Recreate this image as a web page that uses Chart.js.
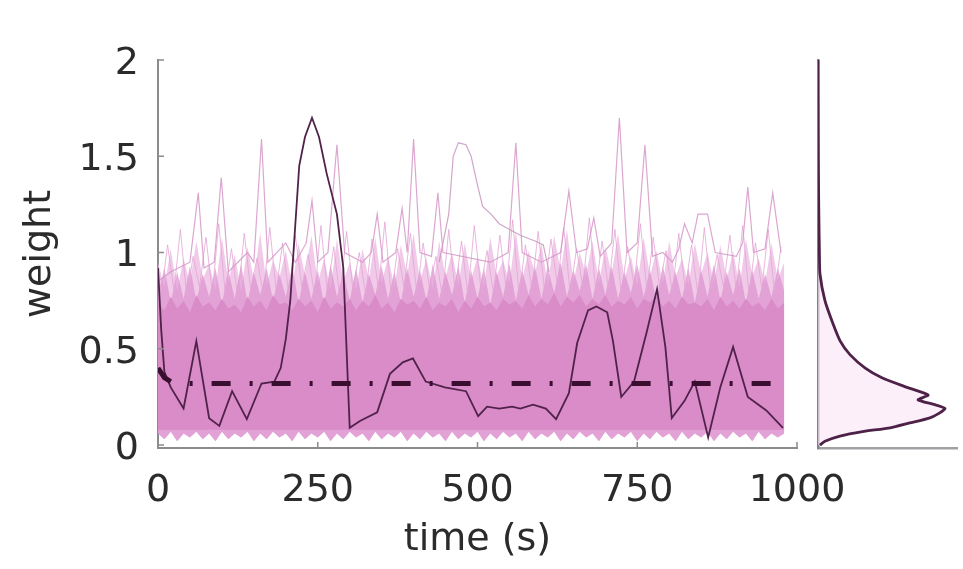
<!DOCTYPE html>
<html>
<head>
<meta charset="utf-8">
<script src="https://cdn.jsdelivr.net/npm/chart.js@4.4.0/dist/chart.umd.min.js"></script>
<style>
  html, body { margin: 0; padding: 0; background: #ffffff; }
  #wrap { position: relative; width: 963px; height: 569px; }
  #wrap canvas { position: absolute; left: 0; top: 0; }
</style>
</head>
<body>
<div id="wrap">
  <canvas id="main" width="963" height="569"></canvas>
  <canvas id="dens" width="963" height="569"></canvas>
</div>
<script>
// ---------------- DATA ----------------
const xTicks = [0, 250, 500, 750, 1000];
const yTicks = [0, 0.5, 1, 1.5, 2];
const xTitle = 'time (s)';
const yTitle = 'weight';

// sample times of the ensemble band (s)
const times10 = [
  0,10,20,30,40,50,60,70,80,90,
  100,110,120,130,140,150,160,170,180,190,
  200,210,220,230,240,250,260,270,280,290,
  300,310,320,330,340,350,360,370,380,390,
  400,410,420,430,440,450,460,470,480,490,
  500,510,520,530,540,550,560,570,580,590,
  600,610,620,630,640,650,660,670,680,690,
  700,710,720,730,740,750,760,770,780,790,
  800,810,820,830,840,850,860,870,880,890,
  900,910,920,930,940,950,960,970,980
];
// upper ragged edge of the many pink trajectories
const bandTop = [
  0.95,0.82,1.02,0.80,0.97,0.84,1.06,0.86,0.94,0.81,
  1.08,0.85,0.99,0.80,1.03,0.86,1.10,0.83,0.96,0.87,
  1.01,0.82,1.05,0.88,1.09,0.84,0.97,0.81,1.07,0.85,
  0.95,0.80,1.02,0.86,1.08,0.84,0.98,0.82,1.04,0.88,
  1.10,0.85,0.97,0.81,1.06,0.87,1.00,0.83,1.05,0.86,
  0.98,0.82,1.08,0.88,0.96,0.84,1.11,0.86,1.01,0.89,
  1.05,0.83,1.09,0.90,1.12,0.85,1.00,0.88,1.06,0.84,
  1.03,0.89,1.10,0.86,0.98,0.83,1.08,0.88,1.01,0.84,
  1.06,0.87,0.97,0.83,1.05,0.89,1.00,0.84,1.04,0.86,
  1.01,0.82,1.07,0.88,0.97,0.84,1.05,0.86,0.95
];
const bandMid = [
  0.78,0.92,0.74,0.90,0.76,0.93,0.75,0.89,0.77,0.92,
  0.73,0.91,0.76,0.94,0.74,0.90,0.78,0.92,0.75,0.89,
  0.77,0.93,0.74,0.90,0.76,0.91,0.73,0.94,0.77,0.90,
  0.75,0.92,0.74,0.89,0.78,0.93,0.76,0.90,0.74,0.92,
  0.77,0.91,0.75,0.94,0.76,0.90,0.78,0.93,0.74,0.91,
  0.76,0.92,0.73,0.90,0.77,0.94,0.75,0.91,0.78,0.93,
  0.76,0.92,0.79,0.95,0.77,0.91,0.80,0.94,0.76,0.92,
  0.78,0.93,0.76,0.90,0.79,0.94,0.77,0.91,0.75,0.93,
  0.78,0.90,0.76,0.92,0.74,0.91,0.77,0.94,0.75,0.90,
  0.78,0.92,0.74,0.91,0.76,0.89,0.77,0.92,0.80
];
const coreTop = [
  0.74,0.70,0.77,0.71,0.75,0.69,0.78,0.72,0.74,0.70,
  0.76,0.71,0.73,0.69,0.77,0.72,0.75,0.70,0.78,0.73,
  0.74,0.70,0.76,0.72,0.75,0.69,0.77,0.71,0.74,0.72,
  0.76,0.70,0.75,0.72,0.78,0.71,0.74,0.69,0.76,0.73,
  0.75,0.71,0.77,0.70,0.74,0.72,0.76,0.69,0.75,0.71,
  0.77,0.72,0.74,0.70,0.76,0.73,0.75,0.71,0.78,0.72,
  0.76,0.73,0.79,0.72,0.77,0.74,0.78,0.72,0.76,0.73,
  0.78,0.72,0.75,0.73,0.77,0.71,0.76,0.74,0.78,0.72,
  0.75,0.71,0.77,0.73,0.74,0.72,0.76,0.70,0.77,0.72,
  0.75,0.71,0.76,0.72,0.74,0.70,0.76,0.71,0.74
];
const coreBase = 0.08;
const bandBottom = [
  0.06,0.03,0.07,0.02,0.06,0.04,0.07,0.03,0.06,0.02,
  0.07,0.03,0.06,0.04,0.07,0.02,0.06,0.03,0.07,0.04,
  0.06,0.02,0.07,0.03,0.06,0.04,0.07,0.02,0.06,0.03,
  0.07,0.04,0.06,0.02,0.07,0.03,0.06,0.04,0.07,0.02,
  0.06,0.03,0.07,0.04,0.06,0.02,0.07,0.03,0.06,0.04,
  0.07,0.02,0.06,0.03,0.07,0.04,0.06,0.02,0.07,0.03,
  0.06,0.04,0.07,0.02,0.06,0.03,0.07,0.04,0.06,0.02,
  0.07,0.03,0.06,0.04,0.07,0.02,0.06,0.03,0.07,0.04,
  0.06,0.02,0.07,0.03,0.06,0.04,0.07,0.02,0.06,0.03,
  0.07,0.04,0.06,0.02,0.07,0.03,0.06,0.04,0.06
];

// thin streaks of individual trajectories poking above the band
const streakT = [
  5,15,25,35,45,55,65,75,85,95,
  105,115,125,135,145,155,165,175,185,195,
  205,215,225,235,245,255,265,275,285,295,
  305,315,325,335,345,355,365,375,385,395,
  405,415,425,435,445,455,465,475,485,495,
  505,515,525,535,545,555,565,575,585,595,
  605,615,625,635,645,655,665,675,685,695,
  705,715,725,735,745,755,765,775,785,795,
  805,815,825,835,845,855,865,875,885,895,
  905,915,925,935,945,955,965,975
];
const streakW = [
  0.78,1.04,0.80,1.12,0.77,0.98,0.82,1.08,0.79,1.15,
  0.80,1.02,0.76,1.10,0.81,0.97,0.78,1.13,0.80,1.05,
  0.77,1.09,0.82,0.99,0.78,1.14,0.80,1.03,0.76,1.11,
  0.81,1.00,0.78,1.07,0.80,1.16,0.77,1.02,0.82,1.10,
  0.79,1.05,0.81,0.98,0.77,1.12,0.80,1.06,0.78,1.14,
  0.82,1.01,0.79,1.09,0.80,1.17,0.78,1.04,0.81,1.11,
  0.80,1.07,0.83,1.13,0.79,1.02,0.82,1.18,0.80,1.06,
  0.81,1.12,0.79,1.03,0.83,1.15,0.80,1.08,0.82,1.01,
  0.79,1.10,0.81,1.04,0.78,1.13,0.80,0.99,0.82,1.09,
  0.80,1.14,0.78,1.05,0.81,1.12,0.79,1.03
];

// isolated tall excursions of single pink trajectories
const spikeT = [0,20,50,63,72,88,99,110,140,150,162,172,200,215,232,241,250,266,280,292,
  320,334,343,352,372,382,390,400,410,428,438,446,520,548,560,570,600,630,643,655,
  672,682,692,710,722,734,750,762,774,790,805,815,824,836,845,860,872,905,915,923,
  932,950,962,975];
const spikeW = [0.85,0.90,0.95,1.31,0.92,0.95,1.39,0.90,1.00,0.95,1.59,0.95,1.05,0.95,1.05,1.27,0.95,1.00,1.56,1.00,
  0.95,1.00,1.20,0.95,1.00,1.23,1.00,1.59,1.00,0.98,1.31,1.00,0.95,1.00,1.57,1.00,0.95,1.00,1.32,1.00,
  1.02,1.18,0.98,1.05,1.70,1.00,1.05,1.56,0.98,1.00,0.95,1.02,1.15,1.05,1.20,1.20,1.00,0.98,1.05,1.34,
  1.00,1.02,1.31,1.00];
const humpT = [440,455,462,470,482,490,500,508,521,534,550,567,590,603,612];
const humpW = [0.95,1.20,1.50,1.57,1.56,1.50,1.35,1.24,1.20,1.15,1.12,1.09,1.06,1.04,0.90];

// highlighted single trajectory (dark)
const darkT = [0,5,10,20,40,60,80,96,116,139,162,182,192,200,207,214,221,230,241,252,
  264,280,290,300,316,343,363,383,399,419,449,482,501,515,534,554,567,587,607,623,
  643,656,673,686,703,712,725,745,765,781,794,804,824,840,861,880,900,923,952,978];
const darkW = [0.92,0.60,0.38,0.30,0.19,0.54,0.14,0.10,0.28,0.135,0.32,0.33,0.40,0.55,0.75,1.10,1.45,1.60,1.70,1.60,
  1.41,1.20,0.92,0.09,0.125,0.17,0.37,0.43,0.45,0.33,0.30,0.28,0.15,0.20,0.19,0.20,0.19,0.21,0.19,0.135,
  0.27,0.53,0.70,0.72,0.69,0.54,0.25,0.33,0.59,0.81,0.51,0.14,0.23,0.33,0.04,0.30,0.51,0.25,0.18,0.09];

// ensemble mean (dash-dot)
const meanT = [0,10,20,40,980];
const meanW = [0.40,0.35,0.33,0.32,0.32];

// stationary distribution (right panel): weight vs density
const densW = [0,0.02,0.047,0.07,0.09,0.115,0.14,0.165,0.19,0.21,0.235,0.26,0.30,0.35,0.40,0.47,0.54,0.63,0.75,0.89,1.0,1.2,1.5,2.0];
const densV = [0.07,0.25,0.79,1.6,2.6,3.3,4.0,4.35,4.57,4.2,3.6,3.96,3.2,2.3,1.7,1.15,0.8,0.54,0.25,0.07,0.05,0.03,0.01,0.0];

// ---------------- CHARTS ----------------
const zip = (xs, ys) => xs.map((x, i) => ({ x: x, y: ys[i] }));
Chart.defaults.font.family = "'DejaVu Sans', 'Liberation Sans', sans-serif";
Chart.defaults.color = '#2b2b2b';

const AXIS_GRAY = 'rgb(140,140,140)';

const innerTicks = {
  id: 'innerTicks',
  afterDraw(chart) {
    const ctx = chart.ctx;
    const xs = chart.scales.x, ys = chart.scales.y;
    const a = chart.chartArea;
    ctx.save();
    ctx.strokeStyle = AXIS_GRAY;
    ctx.lineWidth = 1.5;
    ctx.beginPath();
    yTicks.forEach(v => { const p = ys.getPixelForValue(v); ctx.moveTo(a.left, p); ctx.lineTo(a.left + 6, p); });
    xTicks.forEach(v => { const p = xs.getPixelForValue(v); ctx.moveTo(p, a.bottom); ctx.lineTo(p, a.bottom - 6); });
    ctx.stroke();
    ctx.restore();
  }
};

const lineBase = { pointRadius: 0, tension: 0, fill: false };

new Chart(document.getElementById('main'), {
  type: 'line',
  data: {
    datasets: [
      Object.assign({}, lineBase, { label: 'mean', data: zip(meanT, meanW), borderColor: 'rgb(58,14,48)', borderWidth: 5, borderDash: [19, 19, 3, 19], borderCapStyle: 'butt', order: 0 }),
      Object.assign({}, lineBase, { label: 'example', data: zip(darkT, darkW), borderColor: 'rgb(80,34,74)', borderWidth: 1.8, order: 1 }),
      Object.assign({}, lineBase, { label: 'spikes', data: zip(spikeT, spikeW), borderColor: 'rgba(214,150,200,0.85)', borderWidth: 1.2, order: 2 }),
      Object.assign({}, lineBase, { label: 'hump', data: zip(humpT, humpW), borderColor: 'rgba(200,150,190,0.85)', borderWidth: 1.2, order: 2 }),
      Object.assign({}, lineBase, { label: 'core', data: zip(times10, coreTop), borderColor: 'rgba(0,0,0,0)', borderWidth: 0, backgroundColor: 'rgb(217,140,200)', fill: { value: coreBase }, order: 4 }),
      Object.assign({}, lineBase, { label: 'bandMid', data: zip(times10, bandMid), borderColor: 'rgba(0,0,0,0)', borderWidth: 0, backgroundColor: 'rgba(222,150,208,0.75)', fill: 7, order: 5 }),
      Object.assign({}, lineBase, { label: 'bandTop', data: zip(times10, bandTop), borderColor: 'rgba(0,0,0,0)', borderWidth: 0, backgroundColor: 'rgba(234,180,222,0.7)', fill: 7, order: 6 }),
      Object.assign({}, lineBase, { label: 'bandBottom', data: zip(times10, bandBottom), borderColor: 'rgba(0,0,0,0)', borderWidth: 0, order: 7 }),
      Object.assign({}, lineBase, { label: 'streaks', data: zip(streakT, streakW), borderColor: 'rgba(228,165,214,0.8)', borderWidth: 1, order: 3 })
    ]
  },
  options: {
    responsive: false, animation: false, devicePixelRatio: 1,
    layout: { padding: { left: 0, right: 166, top: 60, bottom: 0 } },
    plugins: { legend: { display: false }, tooltip: { enabled: false } },
    scales: {
      x: {
        type: 'linear', min: 0, max: 1000,
        grid: { display: false },
        border: { display: true, color: AXIS_GRAY, width: 2 },
        afterBuildTicks: s => { s.ticks = xTicks.map(v => ({ value: v })); },
        afterFit: s => { s.height = 121; },
        ticks: { font: { size: 38 }, color: '#2b2b2b', padding: 12, maxRotation: 0, callback: v => String(v) },
        title: { display: true, text: xTitle, font: { size: 38 }, color: '#2b2b2b', padding: { top: 0, bottom: 6 } }
      },
      y: {
        type: 'linear', min: -0.015, max: 2,
        grid: { display: false },
        border: { display: true, color: AXIS_GRAY, width: 2 },
        afterBuildTicks: s => { s.ticks = yTicks.map(v => ({ value: v })); },
        afterFit: s => { s.width = 158; },
        ticks: { font: { size: 38 }, color: '#2b2b2b', padding: 11, labelOffset: 4, callback: v => String(v) },
        title: { display: true, text: yTitle, font: { size: 38 }, color: '#2b2b2b', padding: { top: 17, bottom: 0 } }
      }
    }
  },
  plugins: [innerTicks]
});

new Chart(document.getElementById('dens'), {
  type: 'line',
  data: {
    datasets: [{
      label: 'density', data: zip(densV, densW),
      borderColor: 'rgb(78,34,72)', borderWidth: 2.8, pointRadius: 0, tension: 0.2,
      backgroundColor: 'rgba(250,228,246,0.6)', fill: 'origin'
    }]
  },
  options: {
    indexAxis: 'y',
    responsive: false, animation: false, devicePixelRatio: 1,
    layout: { padding: { left: 818, right: 6, top: 60, bottom: 121 } },
    plugins: { legend: { display: false }, tooltip: { enabled: false } },
    scales: {
      x: {
        type: 'linear', min: 0, max: 5,
        grid: { display: false }, ticks: { display: false },
        border: { display: true, color: 'rgb(160,160,165)', width: 2.5 },
        afterFit: s => { s.height = 0; }
      },
      y: {
        type: 'linear', min: -0.015, max: 2,
        grid: { display: false }, ticks: { display: false },
        border: { display: true, color: 'rgb(130,128,138)', width: 2.5 },
        afterFit: s => { s.width = 0; }
      }
    }
  }
});
</script>
</body>
</html>
